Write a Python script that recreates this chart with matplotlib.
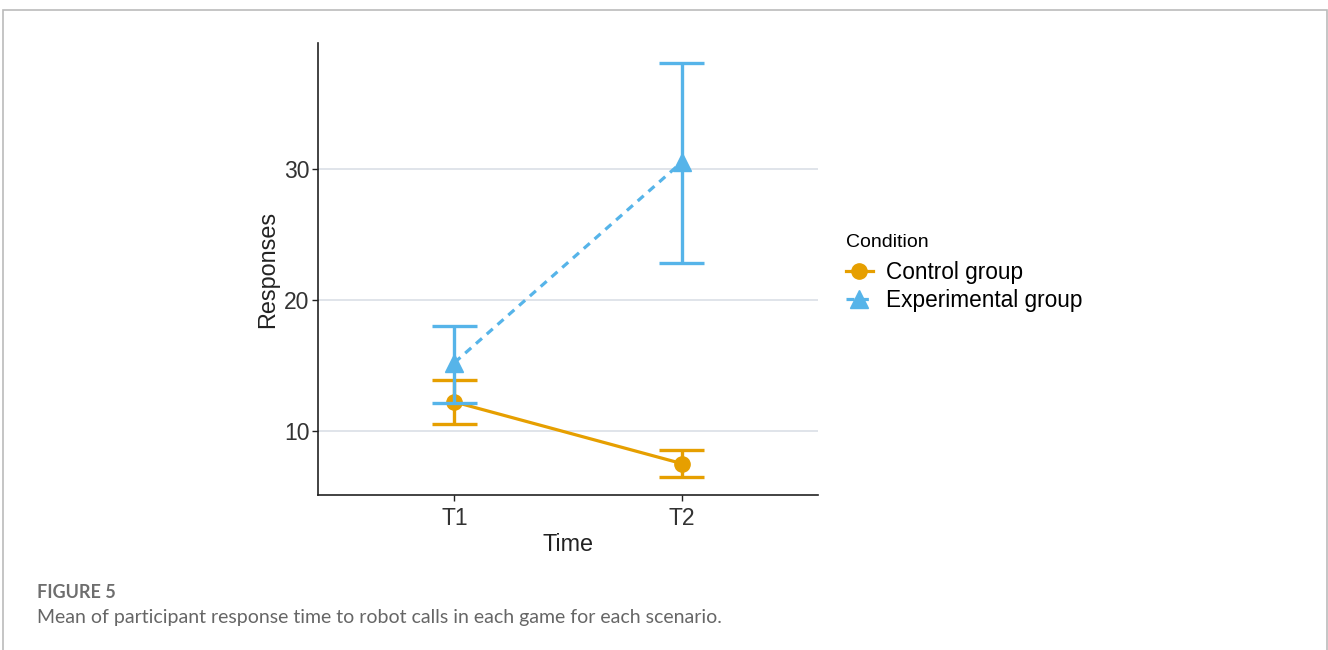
import matplotlib.pyplot as plt
from matplotlib.lines import Line2D
from matplotlib.patches import Rectangle

plt.rcParams['font.family'] = ['Liberation Sans', 'DejaVu Sans']

# Mean responses with lower/upper error limits at each time point
times = ['T1', 'T2']
control_mean = [12.2, 7.5]
control_lo = [10.5, 6.5]
control_hi = [13.9, 8.5]
exp_mean = [15.2, 30.5]
exp_lo = [12.1, 22.8]
exp_hi = [18.0, 38.1]

orange = '#E69F00'
blue = '#56B4E9'

fig = plt.figure(figsize=(13.28, 6.5), dpi=100)
ax = fig.add_axes([0.2395, 0.2385, 0.3765, 0.6954])

x = list(range(1, len(times) + 1))
cap = 0.1

def draw_group(mean, lo, hi, color, marker, ms, ls, z):
    ax.vlines(x, lo, hi, color=color, lw=2.4, zorder=z)
    ax.hlines(lo, [v - cap for v in x], [v + cap for v in x], color=color, lw=2.4, zorder=z)
    ax.hlines(hi, [v - cap for v in x], [v + cap for v in x], color=color, lw=2.4, zorder=z)
    ax.plot(x, mean, color=color, lw=2.3, linestyle=ls, zorder=z)
    ax.plot(x, mean, color=color, marker=marker, ms=ms, linestyle='none', zorder=z + 0.5)

draw_group(control_mean, control_lo, control_hi, orange, 'o', 11, '-', 3)
draw_group(exp_mean, exp_lo, exp_hi, blue, '^', 13, (0, (2.5, 2)), 4)

ax.set_xlim(0.4, 2.6)
ax.set_ylim(5.1, 39.6)
ax.set_xticks(x)
ax.set_xticklabels(times)
ax.set_yticks([10, 20, 30])
ax.grid(axis='y', color='#dde2e8', lw=1.3, zorder=0)
ax.set_axisbelow(True)

for side in ['top', 'right']:
    ax.spines[side].set_visible(False)
for side in ['left', 'bottom']:
    ax.spines[side].set_color('#222222')
    ax.spines[side].set_linewidth(1.2)
ax.tick_params(axis='both', colors='#222222', labelsize=16.5, length=4, width=1.0,
               labelcolor='#333333')
ax.tick_params(axis='x', pad=5)
ax.tick_params(axis='y', pad=2)
ax.set_xlabel('Time', fontsize=16.8, color='#222222', labelpad=2)
ax.set_ylabel('Responses', fontsize=16.8, color='#222222', labelpad=4)

handles = [
    Line2D([], [], color=orange, marker='o', ms=11, lw=2.3, linestyle='-'),
    Line2D([], [], color=blue, marker='^', ms=13, lw=2.3, linestyle=(0, (2.5, 2))),
]
leg = fig.legend(handles, ['Control group', 'Experimental group'], title='Condition',
                 loc='upper left', bbox_to_anchor=(0.630, 0.654), frameon=False,
                 fontsize=16.3, title_fontsize=14, handlelength=1.2, handletextpad=0.6,
                 labelspacing=0.25, borderaxespad=0)
leg._legend_box.align = 'left'
leg._legend_box.sep = 7

# Caption panel
fig.patches.append(Rectangle((3 / 1328, -0.05), 1323.5 / 1328, 1.05 - 10 / 650,
                             transform=fig.transFigure, fill=False,
                             edgecolor='#bbbbbb', lw=1.2))
fig.text(37 / 1328, 1 - 593 / 650, 'FIGURE 5', fontsize=13, color='#6e6e6e',
         family=['Lato', 'DejaVu Sans'], weight='bold', va='center')
fig.text(37 / 1328, 1 - 617 / 650,
         'Mean of participant response time to robot calls in each game for each scenario.',
         fontsize=14, color='#666666', family=['Lato', 'DejaVu Sans'], va='center')

fig.savefig('out.png', dpi=100)
